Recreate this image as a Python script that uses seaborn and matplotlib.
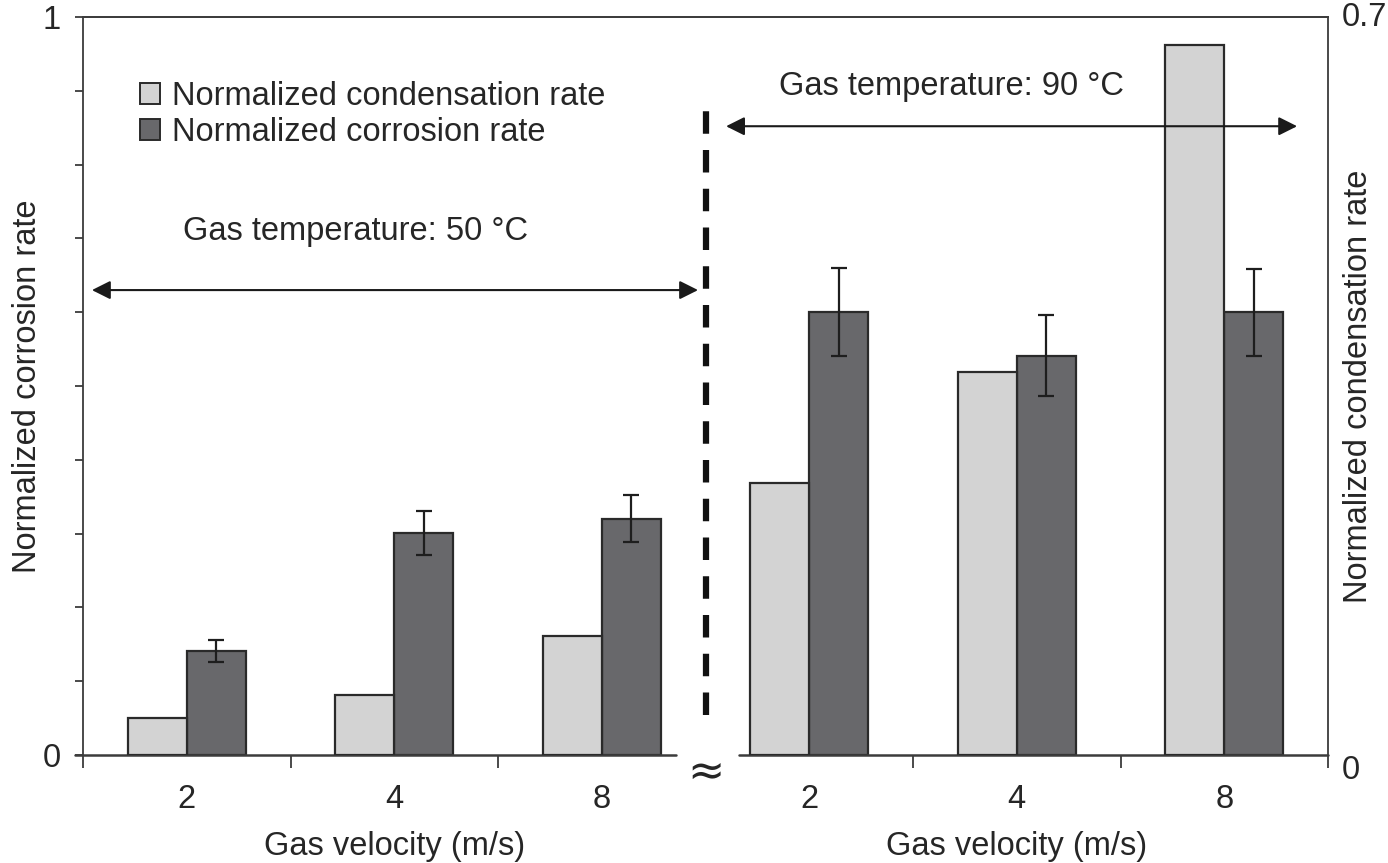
import numpy as np
import pandas as pd
import matplotlib
matplotlib.use("Agg")
import matplotlib.pyplot as plt
import seaborn as sns
from matplotlib.patches import Patch


# =========================
# Data
# =========================

slots = ["50-2", "50-4", "50-8", "90-2", "90-4", "90-8"]
velocity_labels = ["2", "4", "8", "2", "4", "8"]
series_order = ["Normalized condensation rate", "Normalized corrosion rate"]

condensation = [0.035, 0.057, 0.113, 0.258, 0.363, 0.673]   # right axis (0-0.7)
corrosion = [0.141, 0.301, 0.320, 0.600, 0.541, 0.600]      # left axis (0-1)
corrosion_err = [0.015, 0.030, 0.032, 0.060, 0.055, 0.059]

light = "#d3d3d3"
dark = "#68686b"
edge = "#2a2a2a"
frame = "#3c3c3c"

cond_df = pd.DataFrame({"slot": slots, "value": condensation, "series": series_order[0]})
corr_df = pd.DataFrame({"slot": slots, "value": corrosion, "series": series_order[1]})


# =========================
# Style
# =========================

sns.set_theme(style="ticks")
plt.rcParams["font.family"] = ["Liberation Sans", "DejaVu Sans"]
FS = 23.5

fig = plt.figure(figsize=(13.88, 8.63), dpi=100)
ax = fig.add_axes([0.0598, 0.1251, 0.8970, 0.8552])
ax2 = ax.twinx()
ax2.set_position([0.0598, 0.1251, 0.8970, 0.8552])


# =========================
# Bars
# =========================

sns.barplot(
    data=corr_df, x="slot", y="value", hue="series",
    order=slots, hue_order=series_order, dodge=True,
    palette=[light, dark], width=0.57, gap=0,
    edgecolor=edge, linewidth=1.6, errorbar=None,
    legend=False, ax=ax
)

sns.barplot(
    data=cond_df, x="slot", y="value", hue="series",
    order=slots, hue_order=series_order, dodge=True,
    palette=[light, dark], width=0.57, gap=0,
    edgecolor=edge, linewidth=1.6, errorbar=None,
    legend=False, ax=ax2
)

# error bars on the corrosion bars
bars = [p for p in ax.patches if p.get_height() > 0]
bars = sorted(bars, key=lambda p: p.get_x())
xs = [p.get_x() + p.get_width() / 2 for p in bars]
ax.errorbar(xs, corrosion, yerr=corrosion_err, fmt="none",
            ecolor="#1e1e1e", elinewidth=1.6, capsize=6, capthick=1.6)


# =========================
# Axes
# =========================

ax.set_xlim(-0.5, 5.5)
ax.set_ylim(0, 1)
ax2.set_ylim(0, 0.7)

ax.set_xlabel("")
ax.set_ylabel("Normalized corrosion rate", fontsize=FS)
ax.yaxis.set_label_coords(-0.032, 0.5)
ax2.set_xlabel("")
ax2.set_ylabel("Normalized condensation rate", fontsize=FS, rotation=90)
ax2.yaxis.set_label_coords(1.012, 0.5)

ax.set_xticks(range(len(slots)))
ax.set_xticklabels(velocity_labels, fontsize=FS)
ax.tick_params(axis="x", which="major", length=0, pad=21)
ax.set_xticks([-0.5, 0.5, 1.5, 3.5, 4.5, 5.5], minor=True)
ax.tick_params(axis="x", which="minor", length=9, width=1.3, color=frame, direction="out")

ax.set_yticks([0, 1])
ax.set_yticklabels(["0", "1"], fontsize=FS)
ax.set_yticks(np.arange(0.1, 0.95, 0.1), minor=True)
ax.tick_params(axis="y", which="both", length=6, width=1.3, color=frame, direction="out", pad=10)

ax2.set_yticks([0, 0.7])
ax2.set_yticklabels(["0", "0.7"], fontsize=FS)
ax2.tick_params(axis="y", length=0, pad=10)
for lab in ax2.get_yticklabels():
    if lab.get_text() == "0":
        lab.set_va("top")
    else:
        lab.set_va("center")

for a in (ax, ax2):
    for s in a.spines.values():
        s.set_color(frame)
        s.set_linewidth(1.3)
    a.spines["bottom"].set_visible(False)
ax.spines["right"].set_visible(False)
ax2.spines["left"].set_visible(False)

# broken baseline
ax.plot([-0.54, 2.36], [0, 0], color=frame, lw=1.8, clip_on=False, zorder=5)
ax.plot([2.66, 5.5], [0, 0], color=frame, lw=1.8, clip_on=False, zorder=5)


# =========================
# Annotations
# =========================

ax2.plot([2.5, 2.5], [0.054, 0.882], transform=ax.transData, color="#111111",
         lw=4.5, linestyle=(0, (3.6, 2.6)))
ax2.text(2.5, -0.024, "\u2248", transform=ax.transData, fontsize=32,
         family=["DejaVu Sans"], ha="center", va="center", clip_on=False)

ax2.annotate("", xy=(-0.457, 0.630), xytext=(2.464, 0.630),
             xycoords=ax.transData, textcoords=ax.transData,
             arrowprops=dict(arrowstyle="<|-|>", color="#1a1a1a", lw=1.5,
                             mutation_scale=28, shrinkA=0, shrinkB=0))
ax2.text(0.813, 0.709, "Gas temperature: 50 \u00b0C", transform=ax.transData,
         fontsize=FS, ha="center", va="center")

ax2.annotate("", xy=(2.599, 0.852), xytext=(5.351, 0.852),
             xycoords=ax.transData, textcoords=ax.transData,
             arrowprops=dict(arrowstyle="<|-|>", color="#1a1a1a", lw=1.5,
                             mutation_scale=28, shrinkA=0, shrinkB=0))
ax2.text(3.686, 0.906, "Gas temperature: 90 \u00b0C", transform=ax.transData,
         fontsize=FS, ha="center", va="center")

ax.text(1, -0.124, "Gas velocity (m/s)", transform=ax.get_xaxis_transform(),
        fontsize=FS, ha="center", va="center")
ax.text(4, -0.124, "Gas velocity (m/s)", transform=ax.get_xaxis_transform(),
        fontsize=FS, ha="center", va="center")

handles = [
    Patch(facecolor=light, edgecolor=edge, linewidth=1.4, label=series_order[0]),
    Patch(facecolor=dark, edgecolor=edge, linewidth=1.4, label=series_order[1]),
]
ax2.legend(handles=handles, loc="upper left", bbox_to_anchor=(140 / 1388, 1 - 81 / 863),
           bbox_transform=fig.transFigure, frameon=False, fontsize=FS,
           handlelength=0.62, handleheight=0.62, handletextpad=0.35,
           labelspacing=0.14, borderpad=0, borderaxespad=0)

fig.savefig("out.png", dpi=100)
plt.close(fig)
